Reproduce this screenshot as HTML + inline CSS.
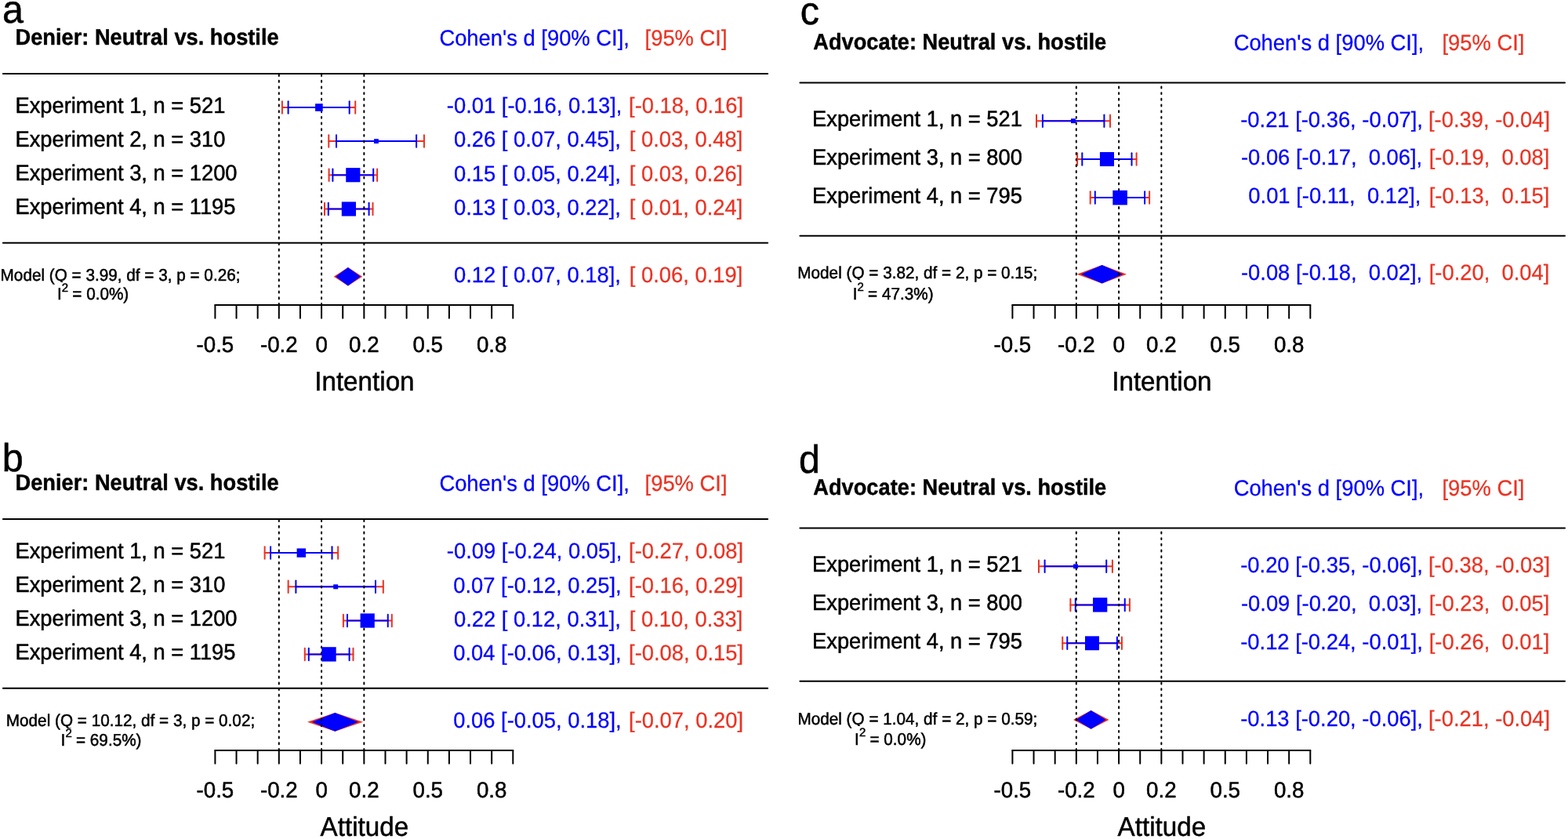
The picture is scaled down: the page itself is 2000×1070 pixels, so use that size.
<!DOCTYPE html>
<html><head><meta charset="utf-8"><title>Forest plots</title>
<style>
html,body{margin:0;padding:0;background:#fff;}
svg{display:block;}
text{font-family:'Liberation Sans', Arial, Helvetica, sans-serif;font-kerning:normal;white-space:pre;text-rendering:geometricPrecision;stroke-linejoin:round;}
</style></head><body>
<svg width="2000" height="1070" viewBox="0 0 2000 1070" stroke-linecap="round" xml:space="preserve">
<defs><clipPath id="qclip" clipPathUnits="userSpaceOnUse"><rect x="-5" y="-40" width="40" height="42.3"/></clipPath></defs>
<rect width="2000" height="1070" fill="#fff"/>
<text transform="translate(2.99 29.00) scale(1 1.03)" font-size="48.5" stroke="#000" stroke-width="0.5" fill="#000">a</text>
<text transform="translate(19.48 57.00) scale(1 1.06)" font-size="27.26" font-weight="bold" stroke="#000" stroke-width="0.4" fill="#000">Denier: Neutral vs. hostile</text>
<text transform="translate(560.38 57.80) scale(1 1.035)" font-size="27.37" stroke="#0000FF" stroke-width="0.25" fill="#0000FF">Cohen&#x27;s d [90% CI],</text>
<text transform="translate(822.59 57.80) scale(1 1.035)" font-size="27.37" stroke="#EA3323" stroke-width="0.25" fill="#EA3323">[95% CI]</text>
<line x1="3.85" y1="93.95" x2="979.20" y2="93.95" stroke="#000" stroke-width="2"/>
<line x1="3.85" y1="309.70" x2="979.20" y2="309.70" stroke="#000" stroke-width="2"/>
<text transform="translate(19.49 143.70) scale(1 1.035)" font-size="27.3" stroke="#000" stroke-width="0.5" fill="#000">Experiment 1, n = 521</text>
<line x1="359.90" y1="137.05" x2="453.20" y2="137.05" stroke="#EA3323" stroke-width="2"/>
<line x1="367.60" y1="137.05" x2="445.70" y2="137.05" stroke="#0000FF" stroke-width="2"/>
<line x1="359.90" y1="129.30" x2="359.90" y2="144.80" stroke="#EA3323" stroke-width="2"/>
<line x1="453.20" y1="129.30" x2="453.20" y2="144.80" stroke="#EA3323" stroke-width="2"/>
<line x1="367.60" y1="129.30" x2="367.60" y2="144.80" stroke="#0000FF" stroke-width="2"/>
<line x1="445.70" y1="129.30" x2="445.70" y2="144.80" stroke="#0000FF" stroke-width="2"/>
<text transform="translate(569.83 144.35) scale(1 1.025)" font-size="27.37" stroke="#0000FF" stroke-width="0.25" fill="#0000FF">-0.01 [-0.16, 0.13],</text>
<text transform="translate(802.03 144.35) scale(1 1.025)" font-size="27.37" stroke="#EA3323" stroke-width="0.25" fill="#EA3323">[-0.18, 0.16]</text>
<text transform="translate(19.49 186.75) scale(1 1.035)" font-size="27.3" stroke="#000" stroke-width="0.5" fill="#000">Experiment 2, n = 310</text>
<line x1="419.30" y1="180.10" x2="540.96" y2="180.10" stroke="#EA3323" stroke-width="2"/>
<line x1="429.00" y1="180.10" x2="531.10" y2="180.10" stroke="#0000FF" stroke-width="2"/>
<line x1="419.30" y1="172.35" x2="419.30" y2="187.85" stroke="#EA3323" stroke-width="2"/>
<line x1="540.96" y1="172.35" x2="540.96" y2="187.85" stroke="#EA3323" stroke-width="2"/>
<line x1="429.00" y1="172.35" x2="429.00" y2="187.85" stroke="#0000FF" stroke-width="2"/>
<line x1="531.10" y1="172.35" x2="531.10" y2="187.85" stroke="#0000FF" stroke-width="2"/>
<text transform="translate(571.34 187.40) scale(1 1.025)" font-size="27.37" stroke="#0000FF" stroke-width="0.25" fill="#0000FF"> 0.26 [ 0.07, 0.45],</text>
<text transform="translate(802.79 187.40) scale(1 1.025)" font-size="27.37" stroke="#EA3323" stroke-width="0.25" fill="#EA3323">[ 0.03, 0.48]</text>
<text transform="translate(19.49 229.85) scale(1 1.035)" font-size="27.3" stroke="#000" stroke-width="0.5" fill="#000">Experiment 3, n = 1200</text>
<line x1="419.60" y1="223.20" x2="481.10" y2="223.20" stroke="#EA3323" stroke-width="2"/>
<line x1="424.40" y1="223.20" x2="476.20" y2="223.20" stroke="#0000FF" stroke-width="2"/>
<line x1="419.60" y1="215.45" x2="419.60" y2="230.95" stroke="#EA3323" stroke-width="2"/>
<line x1="481.10" y1="215.45" x2="481.10" y2="230.95" stroke="#EA3323" stroke-width="2"/>
<line x1="424.40" y1="215.45" x2="424.40" y2="230.95" stroke="#0000FF" stroke-width="2"/>
<line x1="476.20" y1="215.45" x2="476.20" y2="230.95" stroke="#0000FF" stroke-width="2"/>
<text transform="translate(571.34 230.50) scale(1 1.025)" font-size="27.37" stroke="#0000FF" stroke-width="0.25" fill="#0000FF"> 0.15 [ 0.05, 0.24],</text>
<text transform="translate(802.79 230.50) scale(1 1.025)" font-size="27.37" stroke="#EA3323" stroke-width="0.25" fill="#EA3323">[ 0.03, 0.26]</text>
<text transform="translate(19.49 273.15) scale(1 1.035)" font-size="27.3" stroke="#000" stroke-width="0.5" fill="#000">Experiment 4, n = 1195</text>
<line x1="414.00" y1="266.50" x2="475.50" y2="266.50" stroke="#EA3323" stroke-width="2"/>
<line x1="418.80" y1="266.50" x2="470.60" y2="266.50" stroke="#0000FF" stroke-width="2"/>
<line x1="414.00" y1="258.75" x2="414.00" y2="274.25" stroke="#EA3323" stroke-width="2"/>
<line x1="475.50" y1="258.75" x2="475.50" y2="274.25" stroke="#EA3323" stroke-width="2"/>
<line x1="418.80" y1="258.75" x2="418.80" y2="274.25" stroke="#0000FF" stroke-width="2"/>
<line x1="470.60" y1="258.75" x2="470.60" y2="274.25" stroke="#0000FF" stroke-width="2"/>
<text transform="translate(571.34 273.80) scale(1 1.025)" font-size="27.37" stroke="#0000FF" stroke-width="0.25" fill="#0000FF"> 0.13 [ 0.03, 0.22],</text>
<text transform="translate(802.79 273.80) scale(1 1.025)" font-size="27.37" stroke="#EA3323" stroke-width="0.25" fill="#EA3323">[ 0.01, 0.24]</text>
<polygon points="425.70,352.70 443.90,340.90 462.30,352.70 443.90,364.50" fill="#EA3323"/>
<polygon points="428.20,352.70 443.90,340.90 459.80,352.70 443.90,364.50" fill="#0000FF"/>
<text transform="translate(571.34 359.70) scale(1 1.025)" font-size="27.37" stroke="#0000FF" stroke-width="0.25" fill="#0000FF"> 0.12 [ 0.07, 0.18],</text>
<text transform="translate(802.79 359.70) scale(1 1.025)" font-size="27.37" stroke="#EA3323" stroke-width="0.25" fill="#EA3323">[ 0.06, 0.19]</text>
<line x1="355.81" y1="388.90" x2="355.81" y2="93.95" stroke="#000" stroke-width="2" stroke-dasharray="1.92 5.76"/>
<line x1="410.08" y1="388.90" x2="410.08" y2="93.95" stroke="#000" stroke-width="2" stroke-dasharray="1.92 5.76"/>
<line x1="464.35" y1="388.90" x2="464.35" y2="93.95" stroke="#000" stroke-width="2" stroke-dasharray="1.92 5.76"/>
<rect x="402.10" y="132.25" width="9.60" height="9.60" fill="#0000FF"/>
<rect x="477.05" y="177.18" width="5.85" height="5.85" fill="#0000FF"/>
<rect x="441.25" y="214.12" width="18.15" height="18.15" fill="#0000FF"/>
<rect x="435.80" y="257.40" width="18.20" height="18.20" fill="#0000FF"/>
<text transform="translate(0.60 357.60) scale(1 1.035)" font-size="20.73" stroke="#000" stroke-width="0.5" fill="#000">Model (</text>
<text transform="translate(69.72 357.60) scale(1 1.035)" font-size="20.73" stroke="#000" stroke-width="0.5" fill="#000" clip-path="url(#qclip)">Q</text>
<text transform="translate(85.85 357.60) scale(1 1.035)" font-size="20.73" stroke="#000" stroke-width="0.5" fill="#000"> = 3.99, df = 3, p = 0.26;</text>
<text transform="translate(72.89 382.30) scale(1 1.035)" font-size="20.73" stroke="#000" stroke-width="0.5" fill="#000">I</text>
<text x="78.79" y="371.80" font-size="15.0" stroke="#000" stroke-width="0.5" fill="#000">2</text>
<text transform="translate(86.53 382.30) scale(1 1.035)" font-size="20.73" stroke="#000" stroke-width="0.5" fill="#000"> = 0.0%)</text>
<line x1="274.40" y1="388.90" x2="654.30" y2="388.90" stroke="#000" stroke-width="2"/>
<line x1="274.40" y1="388.90" x2="274.40" y2="405.80" stroke="#000" stroke-width="2"/>
<line x1="301.54" y1="388.90" x2="301.54" y2="405.80" stroke="#000" stroke-width="2"/>
<line x1="328.67" y1="388.90" x2="328.67" y2="405.80" stroke="#000" stroke-width="2"/>
<line x1="355.81" y1="388.90" x2="355.81" y2="405.80" stroke="#000" stroke-width="2"/>
<line x1="382.94" y1="388.90" x2="382.94" y2="405.80" stroke="#000" stroke-width="2"/>
<line x1="410.08" y1="388.90" x2="410.08" y2="405.80" stroke="#000" stroke-width="2"/>
<line x1="437.22" y1="388.90" x2="437.22" y2="405.80" stroke="#000" stroke-width="2"/>
<line x1="464.35" y1="388.90" x2="464.35" y2="405.80" stroke="#000" stroke-width="2"/>
<line x1="491.49" y1="388.90" x2="491.49" y2="405.80" stroke="#000" stroke-width="2"/>
<line x1="518.62" y1="388.90" x2="518.62" y2="405.80" stroke="#000" stroke-width="2"/>
<line x1="545.76" y1="388.90" x2="545.76" y2="405.80" stroke="#000" stroke-width="2"/>
<line x1="572.90" y1="388.90" x2="572.90" y2="405.80" stroke="#000" stroke-width="2"/>
<line x1="600.03" y1="388.90" x2="600.03" y2="405.80" stroke="#000" stroke-width="2"/>
<line x1="627.17" y1="388.90" x2="627.17" y2="405.80" stroke="#000" stroke-width="2"/>
<line x1="654.30" y1="388.90" x2="654.30" y2="405.80" stroke="#000" stroke-width="2"/>
<text transform="translate(250.53 449.00) scale(1 1.025)" font-size="27.7" stroke="#000" stroke-width="0.5" fill="#000">-0.5</text>
<text transform="translate(331.94 449.00) scale(1 1.025)" font-size="27.7" stroke="#000" stroke-width="0.5" fill="#000">-0.2</text>
<text transform="translate(402.38 449.00) scale(1 1.025)" font-size="27.7" stroke="#000" stroke-width="0.5" fill="#000">0</text>
<text transform="translate(445.10 449.00) scale(1 1.025)" font-size="27.7" stroke="#000" stroke-width="0.5" fill="#000">0.2</text>
<text transform="translate(526.51 449.00) scale(1 1.025)" font-size="27.7" stroke="#000" stroke-width="0.5" fill="#000">0.5</text>
<text transform="translate(607.91 449.00) scale(1 1.025)" font-size="27.7" stroke="#000" stroke-width="0.5" fill="#000">0.8</text>
<text transform="translate(401.22 497.90) scale(1 1.04)" font-size="33.2" stroke="#000" stroke-width="0.5" fill="#000">Intention</text>
<text transform="translate(2.67 601.30) scale(1 1.03)" font-size="48.5" stroke="#000" stroke-width="0.5" fill="#000">b</text>
<text transform="translate(19.48 625.00) scale(1 1.06)" font-size="27.26" font-weight="bold" stroke="#000" stroke-width="0.4" fill="#000">Denier: Neutral vs. hostile</text>
<text transform="translate(560.38 625.80) scale(1 1.035)" font-size="27.37" stroke="#0000FF" stroke-width="0.25" fill="#0000FF">Cohen&#x27;s d [90% CI],</text>
<text transform="translate(822.59 625.80) scale(1 1.035)" font-size="27.37" stroke="#EA3323" stroke-width="0.25" fill="#EA3323">[95% CI]</text>
<line x1="3.85" y1="661.95" x2="979.20" y2="661.95" stroke="#000" stroke-width="2"/>
<line x1="3.85" y1="877.70" x2="979.20" y2="877.70" stroke="#000" stroke-width="2"/>
<text transform="translate(19.49 711.75) scale(1 1.035)" font-size="27.3" stroke="#000" stroke-width="0.5" fill="#000">Experiment 1, n = 521</text>
<line x1="337.65" y1="705.10" x2="431.15" y2="705.10" stroke="#EA3323" stroke-width="2"/>
<line x1="345.10" y1="705.10" x2="423.50" y2="705.10" stroke="#0000FF" stroke-width="2"/>
<line x1="337.65" y1="697.35" x2="337.65" y2="712.85" stroke="#EA3323" stroke-width="2"/>
<line x1="431.15" y1="697.35" x2="431.15" y2="712.85" stroke="#EA3323" stroke-width="2"/>
<line x1="345.10" y1="697.35" x2="345.10" y2="712.85" stroke="#0000FF" stroke-width="2"/>
<line x1="423.50" y1="697.35" x2="423.50" y2="712.85" stroke="#0000FF" stroke-width="2"/>
<text transform="translate(569.83 712.40) scale(1 1.025)" font-size="27.37" stroke="#0000FF" stroke-width="0.25" fill="#0000FF">-0.09 [-0.24, 0.05],</text>
<text transform="translate(802.03 712.40) scale(1 1.025)" font-size="27.37" stroke="#EA3323" stroke-width="0.25" fill="#EA3323">[-0.27, 0.08]</text>
<text transform="translate(19.49 754.95) scale(1 1.035)" font-size="27.3" stroke="#000" stroke-width="0.5" fill="#000">Experiment 2, n = 310</text>
<line x1="367.65" y1="748.30" x2="488.80" y2="748.30" stroke="#EA3323" stroke-width="2"/>
<line x1="377.40" y1="748.30" x2="479.00" y2="748.30" stroke="#0000FF" stroke-width="2"/>
<line x1="367.65" y1="740.55" x2="367.65" y2="756.05" stroke="#EA3323" stroke-width="2"/>
<line x1="488.80" y1="740.55" x2="488.80" y2="756.05" stroke="#EA3323" stroke-width="2"/>
<line x1="377.40" y1="740.55" x2="377.40" y2="756.05" stroke="#0000FF" stroke-width="2"/>
<line x1="479.00" y1="740.55" x2="479.00" y2="756.05" stroke="#0000FF" stroke-width="2"/>
<text transform="translate(570.58 755.60) scale(1 1.025)" font-size="27.37" stroke="#0000FF" stroke-width="0.25" fill="#0000FF"> 0.07 [-0.12, 0.25],</text>
<text transform="translate(802.03 755.60) scale(1 1.025)" font-size="27.37" stroke="#EA3323" stroke-width="0.25" fill="#EA3323">[-0.16, 0.29]</text>
<text transform="translate(19.49 798.15) scale(1 1.035)" font-size="27.3" stroke="#000" stroke-width="0.5" fill="#000">Experiment 3, n = 1200</text>
<line x1="437.90" y1="791.50" x2="499.80" y2="791.50" stroke="#EA3323" stroke-width="2"/>
<line x1="443.00" y1="791.50" x2="494.75" y2="791.50" stroke="#0000FF" stroke-width="2"/>
<line x1="437.90" y1="783.75" x2="437.90" y2="799.25" stroke="#EA3323" stroke-width="2"/>
<line x1="499.80" y1="783.75" x2="499.80" y2="799.25" stroke="#EA3323" stroke-width="2"/>
<line x1="443.00" y1="783.75" x2="443.00" y2="799.25" stroke="#0000FF" stroke-width="2"/>
<line x1="494.75" y1="783.75" x2="494.75" y2="799.25" stroke="#0000FF" stroke-width="2"/>
<text transform="translate(571.34 798.80) scale(1 1.025)" font-size="27.37" stroke="#0000FF" stroke-width="0.25" fill="#0000FF"> 0.22 [ 0.12, 0.31],</text>
<text transform="translate(802.79 798.80) scale(1 1.025)" font-size="27.37" stroke="#EA3323" stroke-width="0.25" fill="#EA3323">[ 0.10, 0.33]</text>
<text transform="translate(19.49 841.05) scale(1 1.035)" font-size="27.3" stroke="#000" stroke-width="0.5" fill="#000">Experiment 4, n = 1195</text>
<line x1="388.80" y1="834.40" x2="450.50" y2="834.40" stroke="#EA3323" stroke-width="2"/>
<line x1="393.80" y1="834.40" x2="445.60" y2="834.40" stroke="#0000FF" stroke-width="2"/>
<line x1="388.80" y1="826.65" x2="388.80" y2="842.15" stroke="#EA3323" stroke-width="2"/>
<line x1="450.50" y1="826.65" x2="450.50" y2="842.15" stroke="#EA3323" stroke-width="2"/>
<line x1="393.80" y1="826.65" x2="393.80" y2="842.15" stroke="#0000FF" stroke-width="2"/>
<line x1="445.60" y1="826.65" x2="445.60" y2="842.15" stroke="#0000FF" stroke-width="2"/>
<text transform="translate(570.58 841.70) scale(1 1.025)" font-size="27.37" stroke="#0000FF" stroke-width="0.25" fill="#0000FF"> 0.04 [-0.06, 0.13],</text>
<text transform="translate(802.03 841.70) scale(1 1.025)" font-size="27.37" stroke="#EA3323" stroke-width="0.25" fill="#EA3323">[-0.08, 0.15]</text>
<polygon points="392.00,920.80 427.30,908.88 463.10,920.80 427.30,932.72" fill="#EA3323"/>
<polygon points="398.05,920.80 427.30,908.88 457.00,920.80 427.30,932.72" fill="#0000FF"/>
<text transform="translate(570.58 927.80) scale(1 1.025)" font-size="27.37" stroke="#0000FF" stroke-width="0.25" fill="#0000FF"> 0.06 [-0.05, 0.18],</text>
<text transform="translate(802.03 927.80) scale(1 1.025)" font-size="27.37" stroke="#EA3323" stroke-width="0.25" fill="#EA3323">[-0.07, 0.20]</text>
<line x1="355.81" y1="956.90" x2="355.81" y2="661.95" stroke="#000" stroke-width="2" stroke-dasharray="1.92 5.76"/>
<line x1="410.08" y1="956.90" x2="410.08" y2="661.95" stroke="#000" stroke-width="2" stroke-dasharray="1.92 5.76"/>
<line x1="464.35" y1="956.90" x2="464.35" y2="661.95" stroke="#000" stroke-width="2" stroke-dasharray="1.92 5.76"/>
<rect x="378.60" y="699.40" width="11.40" height="11.40" fill="#0000FF"/>
<rect x="425.20" y="745.32" width="5.95" height="5.95" fill="#0000FF"/>
<rect x="459.60" y="782.40" width="18.20" height="18.20" fill="#0000FF"/>
<rect x="410.30" y="825.20" width="18.40" height="18.40" fill="#0000FF"/>
<text transform="translate(7.80 926.25) scale(1 1.035)" font-size="20.73" stroke="#000" stroke-width="0.5" fill="#000">Model (</text>
<text transform="translate(76.92 926.25) scale(1 1.035)" font-size="20.73" stroke="#000" stroke-width="0.5" fill="#000" clip-path="url(#qclip)">Q</text>
<text transform="translate(93.05 926.25) scale(1 1.035)" font-size="20.73" stroke="#000" stroke-width="0.5" fill="#000"> = 10.12, df = 3, p = 0.02;</text>
<text transform="translate(77.59 950.50) scale(1 1.035)" font-size="20.73" stroke="#000" stroke-width="0.5" fill="#000">I</text>
<text x="83.49" y="940.00" font-size="15.0" stroke="#000" stroke-width="0.5" fill="#000">2</text>
<text transform="translate(91.23 950.50) scale(1 1.035)" font-size="20.73" stroke="#000" stroke-width="0.5" fill="#000"> = 69.5%)</text>
<line x1="274.40" y1="956.90" x2="654.30" y2="956.90" stroke="#000" stroke-width="2"/>
<line x1="274.40" y1="956.90" x2="274.40" y2="973.80" stroke="#000" stroke-width="2"/>
<line x1="301.54" y1="956.90" x2="301.54" y2="973.80" stroke="#000" stroke-width="2"/>
<line x1="328.67" y1="956.90" x2="328.67" y2="973.80" stroke="#000" stroke-width="2"/>
<line x1="355.81" y1="956.90" x2="355.81" y2="973.80" stroke="#000" stroke-width="2"/>
<line x1="382.94" y1="956.90" x2="382.94" y2="973.80" stroke="#000" stroke-width="2"/>
<line x1="410.08" y1="956.90" x2="410.08" y2="973.80" stroke="#000" stroke-width="2"/>
<line x1="437.22" y1="956.90" x2="437.22" y2="973.80" stroke="#000" stroke-width="2"/>
<line x1="464.35" y1="956.90" x2="464.35" y2="973.80" stroke="#000" stroke-width="2"/>
<line x1="491.49" y1="956.90" x2="491.49" y2="973.80" stroke="#000" stroke-width="2"/>
<line x1="518.62" y1="956.90" x2="518.62" y2="973.80" stroke="#000" stroke-width="2"/>
<line x1="545.76" y1="956.90" x2="545.76" y2="973.80" stroke="#000" stroke-width="2"/>
<line x1="572.90" y1="956.90" x2="572.90" y2="973.80" stroke="#000" stroke-width="2"/>
<line x1="600.03" y1="956.90" x2="600.03" y2="973.80" stroke="#000" stroke-width="2"/>
<line x1="627.17" y1="956.90" x2="627.17" y2="973.80" stroke="#000" stroke-width="2"/>
<line x1="654.30" y1="956.90" x2="654.30" y2="973.80" stroke="#000" stroke-width="2"/>
<text transform="translate(250.53 1017.00) scale(1 1.025)" font-size="27.7" stroke="#000" stroke-width="0.5" fill="#000">-0.5</text>
<text transform="translate(331.94 1017.00) scale(1 1.025)" font-size="27.7" stroke="#000" stroke-width="0.5" fill="#000">-0.2</text>
<text transform="translate(402.38 1017.00) scale(1 1.025)" font-size="27.7" stroke="#000" stroke-width="0.5" fill="#000">0</text>
<text transform="translate(445.10 1017.00) scale(1 1.025)" font-size="27.7" stroke="#000" stroke-width="0.5" fill="#000">0.2</text>
<text transform="translate(526.51 1017.00) scale(1 1.025)" font-size="27.7" stroke="#000" stroke-width="0.5" fill="#000">0.5</text>
<text transform="translate(607.91 1017.00) scale(1 1.025)" font-size="27.7" stroke="#000" stroke-width="0.5" fill="#000">0.8</text>
<text transform="translate(408.61 1065.90) scale(1 1.04)" font-size="33.2" stroke="#000" stroke-width="0.5" fill="#000">Attitude</text>
<text transform="translate(1020.64 30.70) scale(1 1.03)" font-size="48.5" stroke="#000" stroke-width="0.5" fill="#000">c</text>
<text transform="translate(1037.22 63.10) scale(1 1.06)" font-size="27.26" font-weight="bold" stroke="#000" stroke-width="0.4" fill="#000">Advocate: Neutral vs. hostile</text>
<text transform="translate(1573.65 63.80) scale(1 1.035)" font-size="27.37" stroke="#0000FF" stroke-width="0.25" fill="#0000FF">Cohen&#x27;s d [90% CI],</text>
<text transform="translate(1839.52 63.80) scale(1 1.035)" font-size="27.37" stroke="#EA3323" stroke-width="0.25" fill="#EA3323">[95% CI]</text>
<line x1="1020.40" y1="105.40" x2="1996.00" y2="105.40" stroke="#000" stroke-width="2"/>
<line x1="1020.40" y1="300.80" x2="1996.00" y2="300.80" stroke="#000" stroke-width="2"/>
<text transform="translate(1036.06 160.85) scale(1 1.035)" font-size="27.3" stroke="#000" stroke-width="0.5" fill="#000">Experiment 1, n = 521</text>
<line x1="1322.00" y1="154.20" x2="1416.00" y2="154.20" stroke="#EA3323" stroke-width="2"/>
<line x1="1329.90" y1="154.20" x2="1408.40" y2="154.20" stroke="#0000FF" stroke-width="2"/>
<line x1="1322.00" y1="146.45" x2="1322.00" y2="161.95" stroke="#EA3323" stroke-width="2"/>
<line x1="1416.00" y1="146.45" x2="1416.00" y2="161.95" stroke="#EA3323" stroke-width="2"/>
<line x1="1329.90" y1="146.45" x2="1329.90" y2="161.95" stroke="#0000FF" stroke-width="2"/>
<line x1="1408.40" y1="146.45" x2="1408.40" y2="161.95" stroke="#0000FF" stroke-width="2"/>
<text transform="translate(1582.20 161.50) scale(1 1.025)" font-size="27.37" stroke="#0000FF" stroke-width="0.25" fill="#0000FF">-0.21 [-0.36, -0.07],</text>
<text transform="translate(1821.98 161.50) scale(1 1.025)" font-size="27.37" stroke="#EA3323" stroke-width="0.25" fill="#EA3323">[-0.39, -0.04]</text>
<text transform="translate(1036.06 209.65) scale(1 1.035)" font-size="27.3" stroke="#000" stroke-width="0.5" fill="#000">Experiment 3, n = 800</text>
<line x1="1374.10" y1="203.00" x2="1449.60" y2="203.00" stroke="#EA3323" stroke-width="2"/>
<line x1="1380.30" y1="203.00" x2="1443.50" y2="203.00" stroke="#0000FF" stroke-width="2"/>
<line x1="1374.10" y1="195.25" x2="1374.10" y2="210.75" stroke="#EA3323" stroke-width="2"/>
<line x1="1449.60" y1="195.25" x2="1449.60" y2="210.75" stroke="#EA3323" stroke-width="2"/>
<line x1="1380.30" y1="195.25" x2="1380.30" y2="210.75" stroke="#0000FF" stroke-width="2"/>
<line x1="1443.50" y1="195.25" x2="1443.50" y2="210.75" stroke="#0000FF" stroke-width="2"/>
<text transform="translate(1582.96 210.30) scale(1 1.025)" font-size="27.37" stroke="#0000FF" stroke-width="0.25" fill="#0000FF">-0.06 [-0.17,  0.06],</text>
<text transform="translate(1822.73 210.30) scale(1 1.025)" font-size="27.37" stroke="#EA3323" stroke-width="0.25" fill="#EA3323">[-0.19,  0.08]</text>
<text transform="translate(1036.06 258.75) scale(1 1.035)" font-size="27.3" stroke="#000" stroke-width="0.5" fill="#000">Experiment 4, n = 795</text>
<line x1="1390.70" y1="252.10" x2="1466.10" y2="252.10" stroke="#EA3323" stroke-width="2"/>
<line x1="1396.80" y1="252.10" x2="1460.10" y2="252.10" stroke="#0000FF" stroke-width="2"/>
<line x1="1390.70" y1="244.35" x2="1390.70" y2="259.85" stroke="#EA3323" stroke-width="2"/>
<line x1="1466.10" y1="244.35" x2="1466.10" y2="259.85" stroke="#EA3323" stroke-width="2"/>
<line x1="1396.80" y1="244.35" x2="1396.80" y2="259.85" stroke="#0000FF" stroke-width="2"/>
<line x1="1460.10" y1="244.35" x2="1460.10" y2="259.85" stroke="#0000FF" stroke-width="2"/>
<text transform="translate(1584.73 259.40) scale(1 1.025)" font-size="27.37" stroke="#0000FF" stroke-width="0.25" fill="#0000FF"> 0.01 [-0.11,  0.12],</text>
<text transform="translate(1822.73 259.40) scale(1 1.025)" font-size="27.37" stroke="#EA3323" stroke-width="0.25" fill="#EA3323">[-0.13,  0.15]</text>
<polygon points="1373.60,349.70 1405.60,337.90 1437.00,349.70 1405.60,361.50" fill="#EA3323"/>
<polygon points="1379.00,349.70 1405.60,337.90 1432.20,349.70 1405.60,361.50" fill="#0000FF"/>
<text transform="translate(1582.96 357.35) scale(1 1.025)" font-size="27.37" stroke="#0000FF" stroke-width="0.25" fill="#0000FF">-0.08 [-0.18,  0.02],</text>
<text transform="translate(1822.73 357.35) scale(1 1.025)" font-size="27.37" stroke="#EA3323" stroke-width="0.25" fill="#EA3323">[-0.20,  0.04]</text>
<line x1="1372.81" y1="388.90" x2="1372.81" y2="105.40" stroke="#000" stroke-width="2" stroke-dasharray="1.92 5.76"/>
<line x1="1427.08" y1="388.90" x2="1427.08" y2="105.40" stroke="#000" stroke-width="2" stroke-dasharray="1.92 5.76"/>
<line x1="1481.35" y1="388.90" x2="1481.35" y2="105.40" stroke="#000" stroke-width="2" stroke-dasharray="1.92 5.76"/>
<rect x="1366.00" y="151.25" width="5.90" height="5.90" fill="#0000FF"/>
<rect x="1402.90" y="193.95" width="18.10" height="18.10" fill="#0000FF"/>
<rect x="1419.30" y="242.80" width="18.60" height="18.60" fill="#0000FF"/>
<text transform="translate(1017.30 354.70) scale(1 1.035)" font-size="20.73" stroke="#000" stroke-width="0.5" fill="#000">Model (</text>
<text transform="translate(1086.42 354.70) scale(1 1.035)" font-size="20.73" stroke="#000" stroke-width="0.5" fill="#000" clip-path="url(#qclip)">Q</text>
<text transform="translate(1102.55 354.70) scale(1 1.035)" font-size="20.73" stroke="#000" stroke-width="0.5" fill="#000"> = 3.82, df = 2, p = 0.15;</text>
<text transform="translate(1087.69 381.70) scale(1 1.035)" font-size="20.73" stroke="#000" stroke-width="0.5" fill="#000">I</text>
<text x="1093.59" y="371.20" font-size="15.0" stroke="#000" stroke-width="0.5" fill="#000">2</text>
<text transform="translate(1101.33 381.70) scale(1 1.035)" font-size="20.73" stroke="#000" stroke-width="0.5" fill="#000"> = 47.3%)</text>
<line x1="1291.40" y1="388.90" x2="1671.30" y2="388.90" stroke="#000" stroke-width="2"/>
<line x1="1291.40" y1="388.90" x2="1291.40" y2="405.80" stroke="#000" stroke-width="2"/>
<line x1="1318.54" y1="388.90" x2="1318.54" y2="405.80" stroke="#000" stroke-width="2"/>
<line x1="1345.67" y1="388.90" x2="1345.67" y2="405.80" stroke="#000" stroke-width="2"/>
<line x1="1372.81" y1="388.90" x2="1372.81" y2="405.80" stroke="#000" stroke-width="2"/>
<line x1="1399.94" y1="388.90" x2="1399.94" y2="405.80" stroke="#000" stroke-width="2"/>
<line x1="1427.08" y1="388.90" x2="1427.08" y2="405.80" stroke="#000" stroke-width="2"/>
<line x1="1454.22" y1="388.90" x2="1454.22" y2="405.80" stroke="#000" stroke-width="2"/>
<line x1="1481.35" y1="388.90" x2="1481.35" y2="405.80" stroke="#000" stroke-width="2"/>
<line x1="1508.49" y1="388.90" x2="1508.49" y2="405.80" stroke="#000" stroke-width="2"/>
<line x1="1535.62" y1="388.90" x2="1535.62" y2="405.80" stroke="#000" stroke-width="2"/>
<line x1="1562.76" y1="388.90" x2="1562.76" y2="405.80" stroke="#000" stroke-width="2"/>
<line x1="1589.90" y1="388.90" x2="1589.90" y2="405.80" stroke="#000" stroke-width="2"/>
<line x1="1617.03" y1="388.90" x2="1617.03" y2="405.80" stroke="#000" stroke-width="2"/>
<line x1="1644.17" y1="388.90" x2="1644.17" y2="405.80" stroke="#000" stroke-width="2"/>
<line x1="1671.30" y1="388.90" x2="1671.30" y2="405.80" stroke="#000" stroke-width="2"/>
<text transform="translate(1267.53 449.00) scale(1 1.025)" font-size="27.7" stroke="#000" stroke-width="0.5" fill="#000">-0.5</text>
<text transform="translate(1348.94 449.00) scale(1 1.025)" font-size="27.7" stroke="#000" stroke-width="0.5" fill="#000">-0.2</text>
<text transform="translate(1419.38 449.00) scale(1 1.025)" font-size="27.7" stroke="#000" stroke-width="0.5" fill="#000">0</text>
<text transform="translate(1462.10 449.00) scale(1 1.025)" font-size="27.7" stroke="#000" stroke-width="0.5" fill="#000">0.2</text>
<text transform="translate(1543.51 449.00) scale(1 1.025)" font-size="27.7" stroke="#000" stroke-width="0.5" fill="#000">0.5</text>
<text transform="translate(1624.91 449.00) scale(1 1.025)" font-size="27.7" stroke="#000" stroke-width="0.5" fill="#000">0.8</text>
<text transform="translate(1418.22 497.90) scale(1 1.04)" font-size="33.2" stroke="#000" stroke-width="0.5" fill="#000">Intention</text>
<text transform="translate(1018.96 603.00) scale(1 1.03)" font-size="48.5" stroke="#000" stroke-width="0.5" fill="#000">d</text>
<text transform="translate(1037.22 631.10) scale(1 1.06)" font-size="27.26" font-weight="bold" stroke="#000" stroke-width="0.4" fill="#000">Advocate: Neutral vs. hostile</text>
<text transform="translate(1573.65 631.80) scale(1 1.035)" font-size="27.37" stroke="#0000FF" stroke-width="0.25" fill="#0000FF">Cohen&#x27;s d [90% CI],</text>
<text transform="translate(1839.52 631.80) scale(1 1.035)" font-size="27.37" stroke="#EA3323" stroke-width="0.25" fill="#EA3323">[95% CI]</text>
<line x1="1020.40" y1="673.40" x2="1996.00" y2="673.40" stroke="#000" stroke-width="2"/>
<line x1="1020.40" y1="868.80" x2="1996.00" y2="868.80" stroke="#000" stroke-width="2"/>
<text transform="translate(1036.06 728.95) scale(1 1.035)" font-size="27.3" stroke="#000" stroke-width="0.5" fill="#000">Experiment 1, n = 521</text>
<line x1="1325.00" y1="722.30" x2="1418.90" y2="722.30" stroke="#EA3323" stroke-width="2"/>
<line x1="1332.60" y1="722.30" x2="1411.20" y2="722.30" stroke="#0000FF" stroke-width="2"/>
<line x1="1325.00" y1="714.55" x2="1325.00" y2="730.05" stroke="#EA3323" stroke-width="2"/>
<line x1="1418.90" y1="714.55" x2="1418.90" y2="730.05" stroke="#EA3323" stroke-width="2"/>
<line x1="1332.60" y1="714.55" x2="1332.60" y2="730.05" stroke="#0000FF" stroke-width="2"/>
<line x1="1411.20" y1="714.55" x2="1411.20" y2="730.05" stroke="#0000FF" stroke-width="2"/>
<text transform="translate(1582.20 729.60) scale(1 1.025)" font-size="27.37" stroke="#0000FF" stroke-width="0.25" fill="#0000FF">-0.20 [-0.35, -0.06],</text>
<text transform="translate(1821.98 729.60) scale(1 1.025)" font-size="27.37" stroke="#EA3323" stroke-width="0.25" fill="#EA3323">[-0.38, -0.03]</text>
<text transform="translate(1036.06 778.05) scale(1 1.035)" font-size="27.3" stroke="#000" stroke-width="0.5" fill="#000">Experiment 3, n = 800</text>
<line x1="1365.40" y1="771.40" x2="1440.90" y2="771.40" stroke="#EA3323" stroke-width="2"/>
<line x1="1371.80" y1="771.40" x2="1434.75" y2="771.40" stroke="#0000FF" stroke-width="2"/>
<line x1="1365.40" y1="763.65" x2="1365.40" y2="779.15" stroke="#EA3323" stroke-width="2"/>
<line x1="1440.90" y1="763.65" x2="1440.90" y2="779.15" stroke="#EA3323" stroke-width="2"/>
<line x1="1371.80" y1="763.65" x2="1371.80" y2="779.15" stroke="#0000FF" stroke-width="2"/>
<line x1="1434.75" y1="763.65" x2="1434.75" y2="779.15" stroke="#0000FF" stroke-width="2"/>
<text transform="translate(1582.96 778.70) scale(1 1.025)" font-size="27.37" stroke="#0000FF" stroke-width="0.25" fill="#0000FF">-0.09 [-0.20,  0.03],</text>
<text transform="translate(1822.73 778.70) scale(1 1.025)" font-size="27.37" stroke="#EA3323" stroke-width="0.25" fill="#EA3323">[-0.23,  0.05]</text>
<text transform="translate(1036.06 826.95) scale(1 1.035)" font-size="27.3" stroke="#000" stroke-width="0.5" fill="#000">Experiment 4, n = 795</text>
<line x1="1355.25" y1="820.30" x2="1430.90" y2="820.30" stroke="#EA3323" stroke-width="2"/>
<line x1="1361.30" y1="820.30" x2="1424.90" y2="820.30" stroke="#0000FF" stroke-width="2"/>
<line x1="1355.25" y1="812.55" x2="1355.25" y2="828.05" stroke="#EA3323" stroke-width="2"/>
<line x1="1430.90" y1="812.55" x2="1430.90" y2="828.05" stroke="#EA3323" stroke-width="2"/>
<line x1="1361.30" y1="812.55" x2="1361.30" y2="828.05" stroke="#0000FF" stroke-width="2"/>
<line x1="1424.90" y1="812.55" x2="1424.90" y2="828.05" stroke="#0000FF" stroke-width="2"/>
<text transform="translate(1582.20 827.60) scale(1 1.025)" font-size="27.37" stroke="#0000FF" stroke-width="0.25" fill="#0000FF">-0.12 [-0.24, -0.01],</text>
<text transform="translate(1822.73 827.60) scale(1 1.025)" font-size="27.37" stroke="#EA3323" stroke-width="0.25" fill="#EA3323">[-0.26,  0.01]</text>
<polygon points="1369.00,917.90 1391.60,906.07 1414.50,917.90 1391.60,929.73" fill="#EA3323"/>
<polygon points="1372.50,917.90 1391.60,906.07 1410.65,917.90 1391.60,929.73" fill="#0000FF"/>
<text transform="translate(1582.20 925.55) scale(1 1.025)" font-size="27.37" stroke="#0000FF" stroke-width="0.25" fill="#0000FF">-0.13 [-0.20, -0.06],</text>
<text transform="translate(1821.98 925.55) scale(1 1.025)" font-size="27.37" stroke="#EA3323" stroke-width="0.25" fill="#EA3323">[-0.21, -0.04]</text>
<line x1="1372.81" y1="956.90" x2="1372.81" y2="673.40" stroke="#000" stroke-width="2" stroke-dasharray="1.92 5.76"/>
<line x1="1427.08" y1="956.90" x2="1427.08" y2="673.40" stroke="#000" stroke-width="2" stroke-dasharray="1.92 5.76"/>
<line x1="1481.35" y1="956.90" x2="1481.35" y2="673.40" stroke="#000" stroke-width="2" stroke-dasharray="1.92 5.76"/>
<rect x="1369.10" y="719.40" width="5.80" height="5.80" fill="#0000FF"/>
<rect x="1394.00" y="762.25" width="18.30" height="18.30" fill="#0000FF"/>
<rect x="1384.00" y="811.32" width="17.95" height="17.95" fill="#0000FF"/>
<text transform="translate(1017.40 923.60) scale(1 1.035)" font-size="20.73" stroke="#000" stroke-width="0.5" fill="#000">Model (</text>
<text transform="translate(1086.52 923.60) scale(1 1.035)" font-size="20.73" stroke="#000" stroke-width="0.5" fill="#000" clip-path="url(#qclip)">Q</text>
<text transform="translate(1102.65 923.60) scale(1 1.035)" font-size="20.73" stroke="#000" stroke-width="0.5" fill="#000"> = 1.04, df = 2, p = 0.59;</text>
<text transform="translate(1090.09 949.80) scale(1 1.035)" font-size="20.73" stroke="#000" stroke-width="0.5" fill="#000">I</text>
<text x="1095.99" y="939.30" font-size="15.0" stroke="#000" stroke-width="0.5" fill="#000">2</text>
<text transform="translate(1103.73 949.80) scale(1 1.035)" font-size="20.73" stroke="#000" stroke-width="0.5" fill="#000"> = 0.0%)</text>
<line x1="1291.40" y1="956.90" x2="1671.30" y2="956.90" stroke="#000" stroke-width="2"/>
<line x1="1291.40" y1="956.90" x2="1291.40" y2="973.80" stroke="#000" stroke-width="2"/>
<line x1="1318.54" y1="956.90" x2="1318.54" y2="973.80" stroke="#000" stroke-width="2"/>
<line x1="1345.67" y1="956.90" x2="1345.67" y2="973.80" stroke="#000" stroke-width="2"/>
<line x1="1372.81" y1="956.90" x2="1372.81" y2="973.80" stroke="#000" stroke-width="2"/>
<line x1="1399.94" y1="956.90" x2="1399.94" y2="973.80" stroke="#000" stroke-width="2"/>
<line x1="1427.08" y1="956.90" x2="1427.08" y2="973.80" stroke="#000" stroke-width="2"/>
<line x1="1454.22" y1="956.90" x2="1454.22" y2="973.80" stroke="#000" stroke-width="2"/>
<line x1="1481.35" y1="956.90" x2="1481.35" y2="973.80" stroke="#000" stroke-width="2"/>
<line x1="1508.49" y1="956.90" x2="1508.49" y2="973.80" stroke="#000" stroke-width="2"/>
<line x1="1535.62" y1="956.90" x2="1535.62" y2="973.80" stroke="#000" stroke-width="2"/>
<line x1="1562.76" y1="956.90" x2="1562.76" y2="973.80" stroke="#000" stroke-width="2"/>
<line x1="1589.90" y1="956.90" x2="1589.90" y2="973.80" stroke="#000" stroke-width="2"/>
<line x1="1617.03" y1="956.90" x2="1617.03" y2="973.80" stroke="#000" stroke-width="2"/>
<line x1="1644.17" y1="956.90" x2="1644.17" y2="973.80" stroke="#000" stroke-width="2"/>
<line x1="1671.30" y1="956.90" x2="1671.30" y2="973.80" stroke="#000" stroke-width="2"/>
<text transform="translate(1267.53 1017.00) scale(1 1.025)" font-size="27.7" stroke="#000" stroke-width="0.5" fill="#000">-0.5</text>
<text transform="translate(1348.94 1017.00) scale(1 1.025)" font-size="27.7" stroke="#000" stroke-width="0.5" fill="#000">-0.2</text>
<text transform="translate(1419.38 1017.00) scale(1 1.025)" font-size="27.7" stroke="#000" stroke-width="0.5" fill="#000">0</text>
<text transform="translate(1462.10 1017.00) scale(1 1.025)" font-size="27.7" stroke="#000" stroke-width="0.5" fill="#000">0.2</text>
<text transform="translate(1543.51 1017.00) scale(1 1.025)" font-size="27.7" stroke="#000" stroke-width="0.5" fill="#000">0.5</text>
<text transform="translate(1624.91 1017.00) scale(1 1.025)" font-size="27.7" stroke="#000" stroke-width="0.5" fill="#000">0.8</text>
<text transform="translate(1425.61 1065.90) scale(1 1.04)" font-size="33.2" stroke="#000" stroke-width="0.5" fill="#000">Attitude</text>
</svg>
</body></html>
